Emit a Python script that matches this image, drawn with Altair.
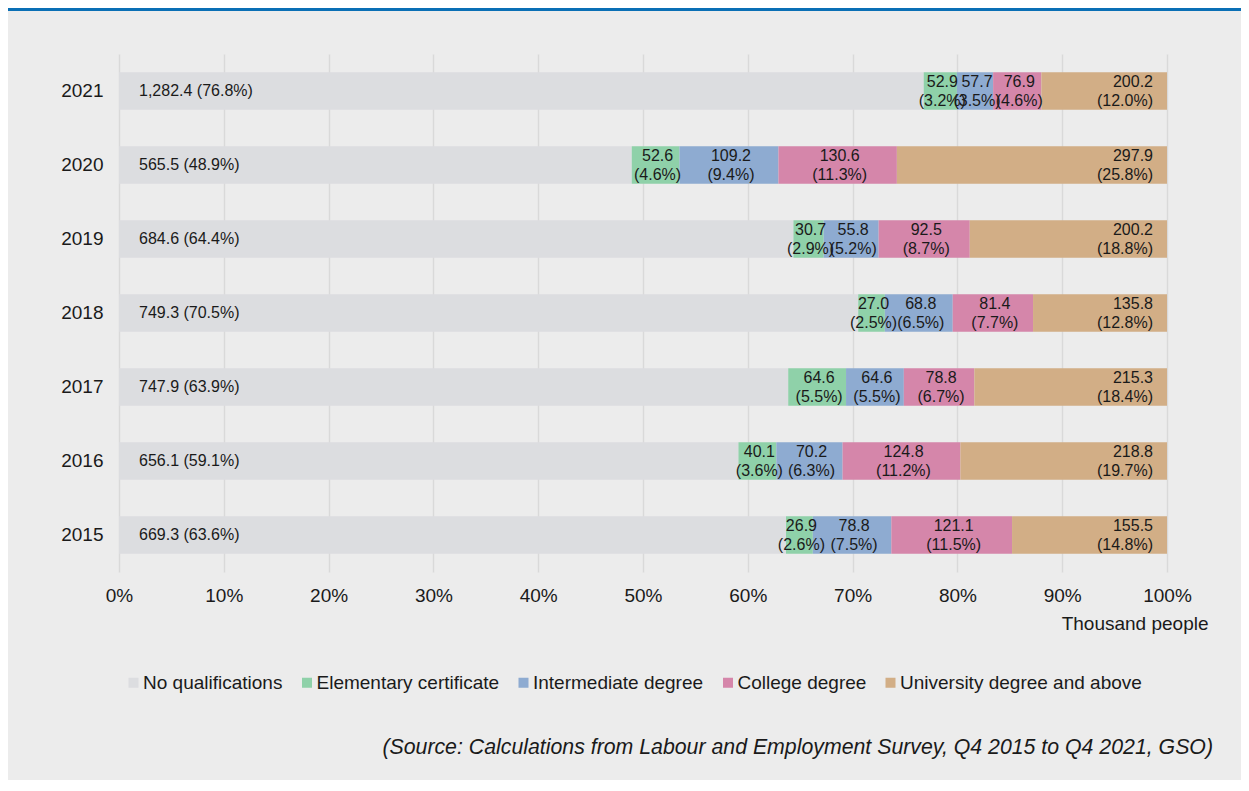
import altair as alt
import pandas as pd

years = [2021, 2020, 2019, 2018, 2017, 2016, 2015]
categories = ["No qualifications", "Elementary certificate", "Intermediate degree",
              "College degree", "University degree and above"]
colors = ["#dcdde0", "#8fd1a9", "#8eabd1", "#d586aa", "#d2ae86"]

no_qual = [1282.4, 565.5, 684.6, 749.3, 747.9, 656.1, 669.3]
no_qual_pct = [76.8, 48.9, 64.4, 70.5, 63.9, 59.1, 63.6]
elementary = [52.9, 52.6, 30.7, 27.0, 64.6, 40.1, 26.9]
elementary_pct = [3.2, 4.6, 2.9, 2.5, 5.5, 3.6, 2.6]
intermediate = [57.7, 109.2, 55.8, 68.8, 64.6, 70.2, 78.8]
intermediate_pct = [3.5, 9.4, 5.2, 6.5, 5.5, 6.3, 7.5]
college = [76.9, 130.6, 92.5, 81.4, 78.8, 124.8, 121.1]
college_pct = [4.6, 11.3, 8.7, 7.7, 6.7, 11.2, 11.5]
university = [200.2, 297.9, 200.2, 135.8, 215.3, 218.8, 155.5]
university_pct = [12.0, 25.8, 18.8, 12.8, 18.4, 19.7, 14.8]

source_text = "(Source: Calculations from Labour and Employment Survey, Q4 2015 to Q4 2021, GSO)"
x_title = "Thousand people"

series = [(no_qual, no_qual_pct), (elementary, elementary_pct), (intermediate, intermediate_pct),
          (college, college_pct), (university, university_pct)]
rows = []
for ci, (vals, pcts) in enumerate(series):
    for yi, yr in enumerate(years):
        v, p = vals[yi], pcts[yi]
        if ci == 0:
            lab = f"{v:,.1f} ({p:.1f}%)"
        else:
            lab = f"{v:,.1f}\n({p:.1f}%)"
        rows.append({"year": yr, "category": categories[ci], "order": ci,
                     "value": v, "label": lab})
df = pd.DataFrame(rows)

FONT = "Liberation Sans"
INK = "#1a1a1a"

base = alt.Chart(df).transform_stack(
    stack="value", groupby=["year"], as_=["v0", "v1"], offset="normalize",
    sort=[alt.SortField("order", order="ascending")]
).transform_calculate(mid="(datum.v0 + datum.v1) / 2")

xscale = alt.Scale(domain=[0, 1], nice=False, zero=True)
yenc = alt.Y("year:O", sort="descending",
             scale=alt.Scale(paddingInner=0.49, paddingOuter=0.245),
             axis=alt.Axis(title=None, ticks=False, domain=False, grid=False,
                           labelFontSize=19, labelPadding=16, labelColor=INK,
                           labelFont=FONT))

bars = base.mark_bar().encode(
    y=yenc,
    x=alt.X("v0:Q", scale=xscale,
            axis=alt.Axis(values=[i / 10 for i in range(11)], format=".0%",
                          grid=True, gridColor="#d9d9d9", gridWidth=1.5,
                          ticks=False, domain=False, labelFontSize=19,
                          labelFlush=False, labelOverlap=False,
                          labelPadding=14, labelColor=INK, labelFont=FONT,
                          title=x_title, titleFontSize=19, titleFontWeight="normal",
                          titleColor=INK, titleFont=FONT, titleAlign="right",
                          titleAnchor="end", titleX=1089, titleY=51,
                          titleBaseline="middle")),
    x2="v1:Q",
    color=alt.Color("category:N", scale=alt.Scale(domain=categories, range=colors),
                    legend=alt.Legend(title=None, orient="none", legendX=5, legendY=619,
                                      direction="horizontal", symbolType="square",
                                      symbolSize=100, symbolStrokeWidth=0,
                                      labelFontSize=19, labelOffset=0, columnPadding=14.5,
                                      labelLimit=0, labelColor=INK, labelFont=FONT)),
    order=alt.Order("order:Q"),
)

txt_first = base.transform_filter("datum.order == 0").mark_text(
    align="left", baseline="middle", dx=20, fontSize=16, font=FONT, color=INK
).encode(y=alt.Y("year:O", sort="descending"), x=alt.X("v0:Q", scale=xscale), text="label:N")

txt_mid = base.transform_filter("datum.order >= 1 && datum.order <= 3").mark_text(
    align="center", baseline="middle", lineBreak="\n", lineHeight=19, dy=-9, dx=2,
    fontSize=16, font=FONT, color=INK
).encode(y=alt.Y("year:O", sort="descending"), x=alt.X("mid:Q", scale=xscale), text="label:N")

txt_last = base.transform_filter("datum.order == 4").mark_text(
    align="right", baseline="middle", lineBreak="\n", lineHeight=19, dx=-14, dy=-9,
    fontSize=16, font=FONT, color=INK
).encode(y=alt.Y("year:O", sort="descending"), x=alt.X("v1:Q", scale=xscale), text="label:N")

src = alt.Chart(pd.DataFrame({"t": [source_text]})).mark_text(
    align="right", baseline="middle", fontSize=21.3, fontStyle="italic",
    font=FONT, color=INK
).encode(x=alt.value(1094), y=alt.value(694), text="t:N")

topband = alt.Chart(pd.DataFrame({"a": [0]})).mark_rule(
    color="#0a6fb5", strokeWidth=3
).encode(x=alt.value(-111), x2=alt.value(1122), y=alt.value(-44.5))

chart = alt.layer(bars, txt_first, txt_mid, txt_last, src, topband).properties(
    width=1048, height=518,
    autosize=alt.AutoSizeParams(type="none"),
    padding={"left": 111, "top": 46, "right": 74, "bottom": 208},
    background="#ececec",
).configure_view(stroke=None)

chart.save("out.html", embed_options={"renderer": "svg", "actions": False})
